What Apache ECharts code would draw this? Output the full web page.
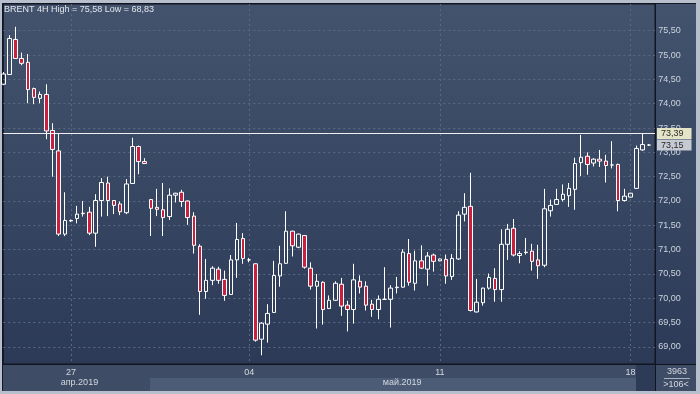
<!DOCTYPE html>
<html>
<head>
<meta charset="utf-8">
<script src="https://cdn.jsdelivr.net/npm/echarts@6/dist/echarts.min.js"></script>
<style>
html,body{margin:0;padding:0;background:#b7bfcc;}
#chart{width:700px;height:394px;}
</style>
</head>
<body>
<div id="chart"></div>
<script>
// BRENT 4H candles (open, close, low, high)
const open = [74.40,74.60,75.32,74.93,74.85,74.31,74.11,74.19,73.45,73.03,
71.32,71.60,71.64,71.74,71.77,71.34,72.01,72.37,72.01,71.94,
71.76,72.36,73.12,72.81,72.03,71.87,71.82,71.68,72.12,72.18,
72.00,71.69,71.07,70.14,70.37,70.60,70.39,70.08,70.79,71.23,
70.79,70.71,69.16,69.47,69.71,70.46,70.72,71.38,71.05,71.29,
70.62,70.25,70.33,69.79,69.96,70.29,69.86,69.77,70.35,70.25,
69.88,69.77,69.98,69.98,70.22,70.23,70.92,70.31,70.77,70.60,
70.89,70.77,70.80,70.45,70.81,71.73,71.89,69.72,69.91,70.21,
70.41,70.18,71.11,71.44,70.88,70.94,70.97,70.79,70.68,71.80,
71.93,72.03,72.11,72.24,72.79,72.92,72.78,72.86,72.82,72.74,
72.75,72.01,72.08,72.26,73.05,73.15];
const close = [74.61,75.34,74.93,74.83,74.29,74.13,74.19,73.44,73.06,71.32,
71.60,71.59,71.73,71.75,71.34,72.01,72.38,72.01,71.91,71.78,
72.35,73.12,72.81,72.77,71.85,71.83,71.66,72.12,72.16,71.99,
71.66,71.09,70.14,70.37,70.62,70.37,70.06,70.79,71.21,70.82,
70.79,69.14,69.49,69.69,70.47,70.71,71.38,71.08,71.32,70.64,
70.25,70.35,69.77,69.96,70.31,69.84,69.77,70.38,70.23,69.86,
69.77,69.98,69.98,70.21,70.23,70.95,70.33,70.77,70.62,70.87,
70.76,70.81,70.46,70.82,71.71,71.87,69.75,69.92,70.21,70.43,
70.18,71.11,71.42,70.89,70.92,70.95,70.76,70.67,71.84,71.91,
72.03,72.14,72.26,72.77,72.90,72.75,72.86,72.82,72.73,72.74,
72.01,72.10,72.16,73.08,73.16,73.15];
const low = [74.38,74.59,74.92,74.79,74.01,73.99,74.01,73.27,72.50,71.28,
71.28,71.57,71.54,71.68,71.30,71.06,71.68,71.69,71.73,71.71,
71.73,72.35,72.55,72.76,71.28,71.69,71.28,71.61,71.97,71.88,
71.51,70.92,69.66,69.99,70.27,70.30,69.95,70.07,70.42,70.71,
70.74,69.11,68.83,69.09,69.70,70.24,70.71,70.86,71.03,70.61,
70.18,69.38,69.46,69.78,69.95,69.64,69.32,69.48,70.10,69.75,
69.62,69.57,69.97,69.40,70.10,70.22,70.26,70.16,70.60,70.26,
70.55,70.76,70.30,70.38,70.79,71.58,69.73,69.71,69.85,70.18,
69.93,69.93,70.79,70.86,70.72,70.90,70.57,70.40,70.64,71.68,
71.92,71.99,71.88,71.82,72.51,72.54,72.71,72.70,72.38,72.67,
71.79,71.99,72.07,72.25,73.03,73.13];
const high = [74.65,75.41,75.58,75.05,75.02,74.33,74.25,74.40,73.60,73.38,
72.18,71.62,71.90,72.00,71.88,72.14,72.47,72.50,72.02,71.99,
72.45,73.30,73.14,72.88,72.04,72.25,72.37,72.26,72.17,72.23,
72.01,71.77,71.11,70.81,70.66,70.65,70.57,70.89,71.55,71.34,
70.83,70.72,69.51,69.88,70.77,71.08,71.79,71.39,71.33,71.30,
70.74,70.50,70.35,70.06,70.35,70.42,69.95,70.71,70.47,70.35,
69.97,70.06,70.64,70.27,70.44,71.01,71.22,70.98,71.09,70.95,
70.92,70.82,70.90,70.91,71.79,72.16,72.58,70.40,70.22,70.51,
70.62,71.42,71.53,71.63,70.97,71.24,71.12,71.10,72.25,72.03,
72.25,72.34,72.37,72.89,73.36,73.00,72.88,73.05,72.95,73.23,
72.77,72.25,72.17,73.14,73.39,73.17];

// x tick labels (bar index -> text)
const dayTickIndex = [11, 40, 71, 102];
const dayTickLabels = ['27', '04', '11', '18'];
const monthTickIndex = [12, 65];
const monthTickLabels = ['апр.2019', 'май.2019'];

const titleText = 'BRENT 4H High = 75,58 Low = 68,83';
const highLine = 73.39;
const lastPrice = 73.15;
const barCount = 3963;
const visibleBars = 106;

// one empty slot after the last bar
const categories = Array.from({length: open.length + 1}, (_, i) => 'b' + i);
const candles = open.map((o, i) => [o, close[i], low[i], high[i]]);

const FONT = 'Liberation Sans, Arial, sans-serif';
const fmt = v => v.toFixed(2).replace('.', ',');

const chart = echarts.init(document.getElementById('chart'), null, {renderer: 'canvas'});

const plotGrad = new echarts.graphic.LinearGradient(0, 0, 0, 1, [
  {offset: 0, color: '#43536d'},
  {offset: 1, color: '#2c3a57'}
]);

function tagLabel(bg) {
  return {
    show: true, position: 'end', distance: 2, formatter: p => fmt(p.value),
    backgroundColor: bg, color: '#2a2a2a', fontSize: 9, fontFamily: FONT,
    padding: [1, 8, 1, 4], lineHeight: 9
  };
}

chart.setOption({
  animation: false,
  backgroundColor: '#b7bfcc',
  textStyle: {fontFamily: FONT},
  title: {
    text: titleText, left: 4, top: 5, padding: 0,
    textStyle: {fontSize: 9, fontWeight: 'normal', color: '#e2e6ec', fontFamily: FONT}
  },
  graphic: [
    {type: 'rect', z: -10, z2: 0, silent: true, shape: {x: 2, y: 3, width: 694, height: 388}, style: {fill: '#121826'}},
    {type: 'rect', z: -10, z2: 1, silent: true, shape: {x: 3, y: 4, width: 652, height: 360}, style: {fill: plotGrad}},
    {type: 'rect', z: -10, z2: 1, silent: true, shape: {x: 656, y: 4, width: 40, height: 360}, style: {fill: plotGrad}},
    {type: 'rect', z: -10, z2: 1, silent: true, shape: {x: 3, y: 365, width: 652, height: 26}, style: {fill: '#3e4c66'}},
    {type: 'rect', z: -10, z2: 2, silent: true, shape: {x: 150, y: 378, width: 486, height: 13}, style: {fill: '#4c5b76'}},
    {type: 'rect', z: -10, z2: 2, silent: true, shape: {x: 636, y: 365, width: 19, height: 26}, style: {fill: '#2e3b56'}},
    {type: 'rect', z: -10, z2: 1, silent: true, shape: {x: 656, y: 365, width: 40, height: 26}, style: {fill: '#3e4c66'}},
    {type: 'line', z: -10, z2: 3, silent: true, shape: {x1: 664, y1: 378.5, x2: 690, y2: 378.5}, style: {stroke: '#aab3c2', lineWidth: 1}},
    {type: 'line', z: -10, z2: 4, silent: true, shape: {x1: 655.5, y1: 364, x2: 655.5, y2: 391}, style: {stroke: '#10151f', lineWidth: 1}},
    {type: 'line', z: -10, z2: 4, silent: true, shape: {x1: 655, y1: 364.5, x2: 696, y2: 364.5}, style: {stroke: '#10151f', lineWidth: 1}},
    {type: 'text', z: 5, silent: true, x: 677, y: 372, style: {text: String(barCount), fill: '#d3d8e0', font: '9px ' + FONT, textAlign: 'center', textVerticalAlign: 'middle'}},
    {type: 'text', z: 5, silent: true, x: 676, y: 385, style: {text: '>' + visibleBars + '<', fill: '#d3d8e0', font: '9px ' + FONT, textAlign: 'center', textVerticalAlign: 'middle'}}
  ],
  grid: [
    {left: 3.3, right: 45, top: 6.37, bottom: 22.67},
    {left: 3.3, right: 45, top: 4, bottom: 30, show: true, backgroundColor: 'rgba(0,0,0,0)', borderColor: '#10151f', borderWidth: 1}
  ],
  xAxis: [
    {type: 'category', gridIndex: 0, data: categories, boundaryGap: false, show: false},
    {
      type: 'category', gridIndex: 1, data: categories, boundaryGap: false, position: 'bottom',
      axisLine: {show: false}, axisTick: {show: false},
      splitLine: {show: true, interval: (i) => dayTickIndex.includes(i),
        lineStyle: {color: '#5a6983', type: [2, 3], width: 1}},
      axisLabel: {show: true, interval: (i) => dayTickIndex.includes(i), margin: 4,
        formatter: (v, i) => { const k = dayTickIndex.indexOf(i); return k >= 0 ? dayTickLabels[k] : ''; },
        color: '#d3d8e0', fontSize: 9, fontFamily: FONT}
    },
    {
      type: 'category', gridIndex: 1, data: categories, boundaryGap: true, position: 'bottom',
      axisLine: {show: false}, axisTick: {show: false}, splitLine: {show: false},
      axisLabel: {show: true, interval: (i) => monthTickIndex.includes(i), margin: 14.5,
        formatter: (v, i) => { const k = monthTickIndex.indexOf(i); return k >= 0 ? monthTickLabels[k] : ''; },
        color: '#d3d8e0', fontSize: 9, fontFamily: FONT}
    }
  ],
  yAxis: [
    {
      type: 'value', gridIndex: 0, position: 'right', min: 68.5, max: 76, interval: 0.5, scale: true,
      axisLine: {show: false}, axisTick: {show: false},
      splitLine: {show: true, showMinLine: false, showMaxLine: false,
        lineStyle: {color: '#5a6983', type: [2, 3], width: 1}},
      axisLabel: {margin: 3.3, showMinLabel: false, showMaxLabel: false, formatter: v => fmt(v),
        color: '#cdd3dc', fontSize: 9, fontFamily: FONT}
    },
    {type: 'value', gridIndex: 1, show: false}
  ],
  series: [{
    type: 'candlestick',
    xAxisIndex: 0, yAxisIndex: 0,
    data: candles,
    barWidth: 4,
    clip: true,
    itemStyle: {
      color: 'rgba(0,0,0,0)', color0: '#c8203e',
      borderColor: '#ffffff', borderColor0: '#ffffff', borderWidth: 1
    },
    markLine: {
      silent: true, symbol: ['none', 'none'], animation: false,
      data: [
        {yAxis: highLine, lineStyle: {color: '#f0f0f0', width: 1, type: 'solid'}, label: tagLabel('#e4e4c6')},
        {yAxis: lastPrice, lineStyle: {color: 'rgba(0,0,0,0)', width: 1, type: 'solid'}, label: tagLabel('#c5cad3')}
      ]
    }
  }]
});
</script>
</body>
</html>
